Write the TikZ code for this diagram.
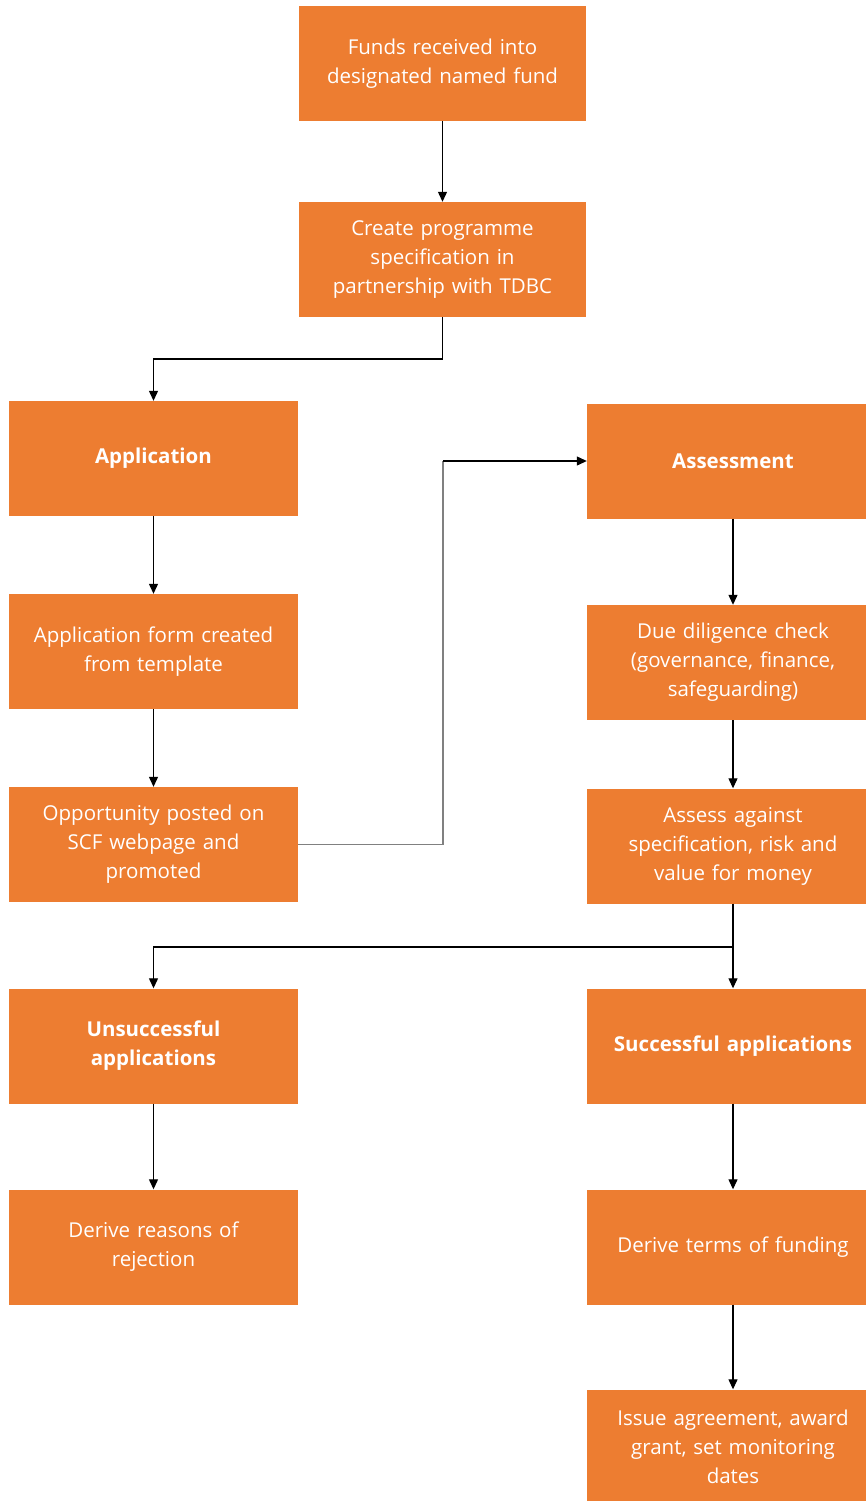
\documentclass[tikz,border=0pt]{standalone}
\usepackage{fontspec}
\setmainfont{Open Sans}
\usetikzlibrary{arrows.meta}
\definecolor{boxorange}{HTML}{ED7D31}
\definecolor{linegray}{HTML}{808080}
\tikzset{
  stepbox/.style={rectangle, fill=boxorange, draw=none, text=white, align=center,
    minimum height=115pt, inner sep=2pt,
    font=\fontsize{20.5}{29}\selectfont},
  leftbox/.style={stepbox, minimum width=289pt, text width=282pt},
  rightbox/.style={stepbox, minimum width=292pt, text width=285pt},
  topbox/.style={stepbox, minimum width=287pt, text width=280pt},
  boldtext/.style={font=\fontsize{20.5}{29}\selectfont\bfseries},
  conn/.style={line width=1.2pt, draw=black, -{Triangle[width=9pt,length=10pt]}},
  plainconn/.style={line width=1.2pt, draw=black},
}
\begin{document}
\begin{tikzpicture}[x=1pt,y=-1pt]
\useasboundingbox (0,0) rectangle (866,1501);
\fill[white] (0,0) rectangle (866,1501);

\node[topbox] (f1) at (442.5,63.5) {Funds received into\\designated named fund};
\node[topbox] (f2) at (442.5,259.5) {Create programme\\specification in\\partnership with TDBC};

\node[leftbox, boldtext] (app) at (153.5,458.5) {Application};
\node[leftbox] (form) at (153.5,651.5) {Application form created\\from template};
\node[leftbox] (opp) at (153.5,844.5) {Opportunity posted on\\SCF webpage and\\promoted};

\node[rightbox, boldtext] (ass) at (733,461) {Assessment};
\node[rightbox] (dd) at (733,662.5) {Due diligence check\\(governance, finance,\\safeguarding)};
\node[rightbox] (asg) at (733,846) {Assess against\\specification, risk and\\value for money};

\node[leftbox, boldtext] (uns) at (153.5,1046) {Unsuccessful\\applications};
\node[rightbox, boldtext] (suc) at (733,1046) {Successful applications};
\node[leftbox] (rej) at (153.5,1247) {Derive reasons of\\rejection};
\node[rightbox] (terms) at (733,1247) {Derive terms of funding};
\node[rightbox] (issue) at (733,1447) {Issue agreement, award\\grant, set monitoring\\dates};

\coordinate (j0) at (442.5,359);
\coordinate (j1) at (443,845);
\coordinate (j2) at (733,947);

\draw[conn] (f1) -- (f2);
\draw[conn] (f2.south) -- (j0) -| (app.north);
\draw[conn] (app) -- (form);
\draw[conn] (form) -- (opp);
\draw[line width=1.2pt, draw=linegray] (opp.east) -- (opp.east -| j1) -- (j1 |- ass.west);
\draw[conn] (j1 |- ass.west) -- (ass.west);
\draw[conn] (ass) -- (dd);
\draw[conn] (dd) -- (asg);
\draw[plainconn] (asg.south) -- (j2);
\draw[conn] (j2) -| (uns.north);
\draw[conn] (j2) -- (suc.north);
\draw[conn] (uns) -- (rej);
\draw[conn] (suc) -- (terms);
\draw[conn] (terms) -- (issue);
\end{tikzpicture}
\end{document}
